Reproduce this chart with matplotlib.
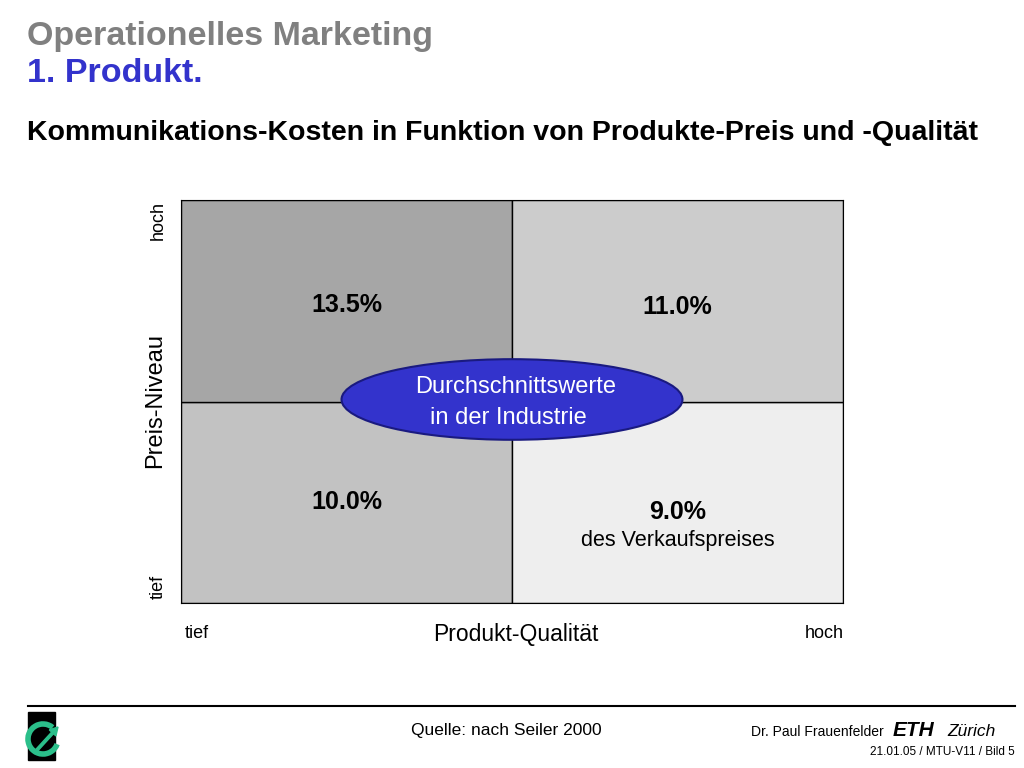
import matplotlib
matplotlib.use("Agg")
import matplotlib.pyplot as plt
from matplotlib.patches import Ellipse, Rectangle, Arc, FancyArrow

# data
quality_levels = ["tief", "hoch"]
price_levels = ["tief", "hoch"]
cell_values = {("tief", "hoch"): "13.5%", ("hoch", "hoch"): "11.0%",
               ("tief", "tief"): "10.0%", ("hoch", "tief"): "9.0%"}
cell_colors = {("tief", "hoch"): "#a6a6a6", ("hoch", "hoch"): "#cccccc",
               ("tief", "tief"): "#c2c2c2", ("hoch", "tief"): "#eeeeee"}

W, H = 1024, 768
fig = plt.figure(figsize=(W/100, H/100), dpi=100)
def fx(x): return x / W
def fy(y): return 1 - y / H
F = "Liberation Sans"

fig.text(fx(27), fy(36), "Operationelles Marketing", color="#808080", fontsize=24.5, fontweight="bold", va="center", family=F)
fig.text(fx(27), fy(74), "1. Produkt.", color="#3333cc", fontsize=24.5, fontweight="bold", va="center", family=F)
fig.text(fx(27), fy(133), "Kommunikations-Kosten in Funktion von Produkte-Preis und -Qualität", color="black", fontsize=20.5, fontweight="bold", va="center", family=F)

ax = fig.add_axes([fx(181), fy(603), (843-181)/W, (603-200)/H])
ax.set_xlim(0, 2); ax.set_ylim(0, 2)
for i, q in enumerate(quality_levels):
    for j, p in enumerate(price_levels):
        ax.bar(i + 0.5, 1, width=1, bottom=j, color=cell_colors[(q, p)], edgecolor="black", linewidth=1)
ax.set_xticks([]); ax.set_yticks([])

tp = dict(ha="center", va="center", fontsize=18, fontweight="bold", family=F)
ax.text(0.5, 1.48, cell_values[("tief", "hoch")], **tp)
ax.text(1.5, 1.47, cell_values[("hoch", "hoch")], **tp)
ax.text(0.5, 0.50, cell_values[("tief", "tief")], **tp)
ax.text(1.5, 0.45, cell_values[("hoch", "tief")], **tp)
ax.text(1.5, 0.31, "des Verkaufspreises", ha="center", va="center", fontsize=15.5, family=F)

ax.add_patch(Ellipse((1.0, 1.01), 1.03, 0.40, facecolor="#3333cc", edgecolor="#1a1a80", linewidth=1.5, clip_on=False, zorder=5))
ax.text(1.01, 1.07, "Durchschnittswerte", ha="center", va="center", fontsize=17, color="white", zorder=6, family=F)
ax.text(0.99, 0.92, "in der Industrie", ha="center", va="center", fontsize=17, color="white", zorder=6, family=F)

lp = dict(fontsize=13, family=F, ha="center", va="center")
fig.text(fx(158), fy(221), "hoch", rotation=90, **lp)
fig.text(fx(158), fy(587), "tief", rotation=90, **lp)
fig.text(fx(155), fy(401), "Preis-Niveau", rotation=90, fontsize=17, family=F, ha="center", va="center")
fig.text(fx(197), fy(633), "tief", **lp)
fig.text(fx(824), fy(633), "hoch", **lp)
fig.text(fx(516), fy(634), "Produkt-Qualität", fontsize=16.5, family=F, ha="center", va="center")

# footer
fig.add_artist(plt.Line2D([fx(28), fx(1015)], [fy(706), fy(706)], color="black", linewidth=1.5))
fig.text(fx(506), fy(731), "Quelle: nach Seiler 2000", fontsize=12.5, family=F, ha="center", va="center")
fig.text(fx(884), fy(732), "Dr. Paul Frauenfelder", fontsize=10, family=F, ha="right", va="center")
fig.text(fx(893), fy(731), "ETH", fontsize=15, fontweight="heavy", style="italic", family=F, ha="left", va="center")
fig.text(fx(996), fy(731), "Zürich", fontsize=12.5, style="italic", family=F, ha="right", va="center")
fig.text(fx(1015), fy(752), "21.01.05 / MTU-V11 / Bild 5", fontsize=8.5, family=F, ha="right", va="center")

# logo
lax = fig.add_axes([fx(20), fy(765), 70/W, 55/H])
lax.set_xlim(0, 70); lax.set_ylim(0, 55); lax.axis("off")
lax.add_patch(Rectangle((8, 5), 27, 48, color="black"))
lax.add_patch(Arc((23, 26), 30, 30, theta1=50, theta2=340, color="#2bbf8a", linewidth=4, clip_on=False))
lax.add_patch(FancyArrow(16, 14, 22, 24, width=2.5, head_width=9, head_length=8, color="#2bbf8a", length_includes_head=True, clip_on=False))

fig.savefig("out.png", dpi=100)
